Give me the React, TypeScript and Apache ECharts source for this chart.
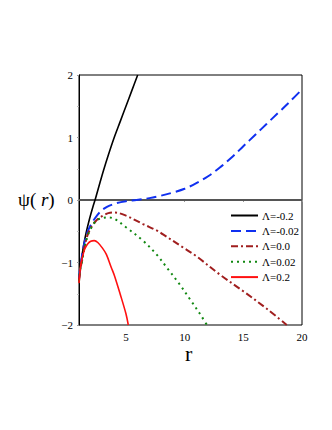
import React, { useEffect, useRef } from "react";
import * as echarts from "echarts";

const legendNames = ["Λ=-0.2", "Λ=-0.02", "Λ=0.0", "Λ=0.02", "Λ=0.2"];

const rBlack = [1.0, 1.2, 1.4, 1.6, 1.9, 2.2, 2.4, 2.7, 3.1, 3.5, 4.0, 4.5, 5.0, 5.5, 6.0];
const psiBlack = [-1.3, -0.97, -0.72, -0.53, -0.3, -0.1, 0.02, 0.22, 0.48, 0.72, 1.0, 1.25, 1.5, 1.75, 2.0];

const rBlue = [1.0, 1.1, 1.25, 1.5, 1.75, 2.0, 2.33, 2.75, 3.2, 3.6, 4.2, 5.0, 5.9, 7.0, 8.0, 9.0, 10.0, 11.0, 12.0, 13.0, 14.0, 15.0, 16.0, 17.0, 18.0, 19.0, 20.0];
const psiBlue = [-1.25, -1.08, -0.9, -0.65, -0.5, -0.4, -0.3, -0.2, -0.13, -0.09, -0.05, -0.02, 0.0, 0.03, 0.07, 0.12, 0.18, 0.27, 0.38, 0.52, 0.68, 0.86, 1.04, 1.22, 1.4, 1.58, 1.77];

const rBrown = [1.0, 1.1, 1.25, 1.5, 1.75, 2.0, 2.33, 2.7, 3.05, 3.5, 4.0, 5.0, 6.45, 7.65, 8.16, 9.87, 11.0, 13.05, 15.0, 17.0, 18.7];
const psiBrown = [-1.3, -1.12, -0.98, -0.72, -0.55, -0.45, -0.36, -0.29, -0.25, -0.21, -0.2, -0.25, -0.385, -0.49, -0.55, -0.76, -0.9, -1.2, -1.46, -1.74, -2.0];

const rGreen = [1.0, 1.1, 1.25, 1.5, 1.75, 2.0, 2.47, 3.0, 3.47, 4.0, 5.03, 6.45, 7.6, 8.6, 9.5, 10.5, 11.3, 11.9];
const psiGreen = [-1.3, -1.12, -0.98, -0.74, -0.57, -0.46, -0.33, -0.29, -0.28, -0.3, -0.44, -0.65, -0.87, -1.11, -1.33, -1.6, -1.82, -2.0];

const rRed = [1.0, 1.1, 1.2, 1.35, 1.5, 1.75, 2.0, 2.3, 2.6, 3.0, 3.33, 3.75, 4.0, 4.5, 5.0, 5.2];
const psiRed = [-1.33, -1.12, -0.98, -0.87, -0.78, -0.7, -0.66, -0.65, -0.68, -0.77, -0.87, -1.08, -1.2, -1.5, -1.82, -2.0];

const zeroR = [1, 20];
const zeroPsi = [0, 0];

const xTicks = [5, 10, 15, 20];

const zip = (a: number[], b: number[]) => a.map((v, i) => [v, b[i]]);
const serif = "Liberation Serif, Times New Roman, serif";
const fmt = (v: number) => String(v).replace("-", "\u2212");

export default function App() {
  const ref = useRef<HTMLDivElement>(null);
  useEffect(() => {
    if (!ref.current) return;
    const chart = echarts.init(ref.current, null, { renderer: "svg" });
    const base = { type: "line", showSymbol: false, symbol: "none", smooth: 0.35, clip: true };
    chart.setOption({
      animation: false,
      grid: {
        left: 79,
        right: 30,
        top: 75,
        bottom: 105,
        show: true,
        borderColor: "#000",
        borderWidth: 1,
      },
      xAxis: {
        type: "value",
        min: 1,
        max: 20,
        splitLine: { show: false },
        axisLine: { lineStyle: { color: "#000", width: 1 } },
        axisTick: { inside: false, length: 2, customValues: xTicks, lineStyle: { color: "#999" } },
        axisLabel: {
          customValues: xTicks,
          color: "#000",
          fontFamily: serif,
          fontSize: 11,
          margin: 6,
          formatter: fmt,
        },
      },
      yAxis: {
        type: "value",
        min: -2,
        max: 2,
        interval: 1,
        splitLine: { show: false },
        axisLine: { lineStyle: { color: "#000", width: 1 } },
        axisTick: { inside: false, length: 2, lineStyle: { color: "#999" } },
        minorTick: { show: true, splitNumber: 2, length: 2, lineStyle: { color: "#bbb" } },
        axisLabel: {
          color: "#000",
          fontFamily: serif,
          fontSize: 11,
          margin: 6,
          formatter: fmt,
        },
      },
      legend: {
        data: legendNames,
        orient: "vertical",
        left: 230,
        top: 210,
        padding: 0,
        itemWidth: 27,
        itemHeight: 10,
        itemGap: 4.4,
        itemStyle: { opacity: 0 },
        textStyle: { color: "#000", fontFamily: serif, fontSize: 11, padding: [0, 0, 0, -1] },
      },
      graphic: [
        {
          type: "text",
          left: 18,
          top: 190,
          style: {
            text: "{a|ψ(}{b| r}{a|)}",
            rich: {
              a: { fontFamily: serif, fontSize: 19, fill: "#000" },
              b: { fontFamily: serif, fontSize: 19, fontStyle: "italic", fill: "#000" },
            },
          },
        },
        {
          type: "text",
          left: 185,
          top: 342,
          style: { text: "r", fontFamily: serif, fontSize: 22, fill: "#000" },
        },
      ],
      series: [
        {
          ...base,
          name: "zero",
          smooth: false,
          data: zip(zeroR, zeroPsi),
          lineStyle: { color: "#555", width: 2 },
          z: 1,
        },
        {
          ...base,
          name: legendNames[0],
          data: zip(rBlack, psiBlack),
          lineStyle: { color: "#000", width: 1.6 },
          itemStyle: { color: "#000" },
        },
        {
          ...base,
          name: legendNames[1],
          data: zip(rBlue, psiBlue),
          lineStyle: { color: "#1030f0", width: 2, type: [10, 5] },
          itemStyle: { color: "#1030f0" },
        },
        {
          ...base,
          name: legendNames[2],
          data: zip(rBrown, psiBrown),
          lineStyle: { color: "#a01e1e", width: 2, type: [7, 3, 2, 3] },
          itemStyle: { color: "#a01e1e" },
        },
        {
          ...base,
          name: legendNames[3],
          data: zip(rGreen, psiGreen),
          lineStyle: { color: "#118811", width: 2, type: [2, 4] },
          itemStyle: { color: "#118811" },
        },
        {
          ...base,
          name: legendNames[4],
          data: zip(rRed, psiRed),
          lineStyle: { color: "#ff1010", width: 1.6 },
          itemStyle: { color: "#ff1010" },
        },
      ],
    });
    return () => chart.dispose();
  }, []);
  return <div ref={ref} style={{ width: 332, height: 430, margin: -8 }} />;
}
